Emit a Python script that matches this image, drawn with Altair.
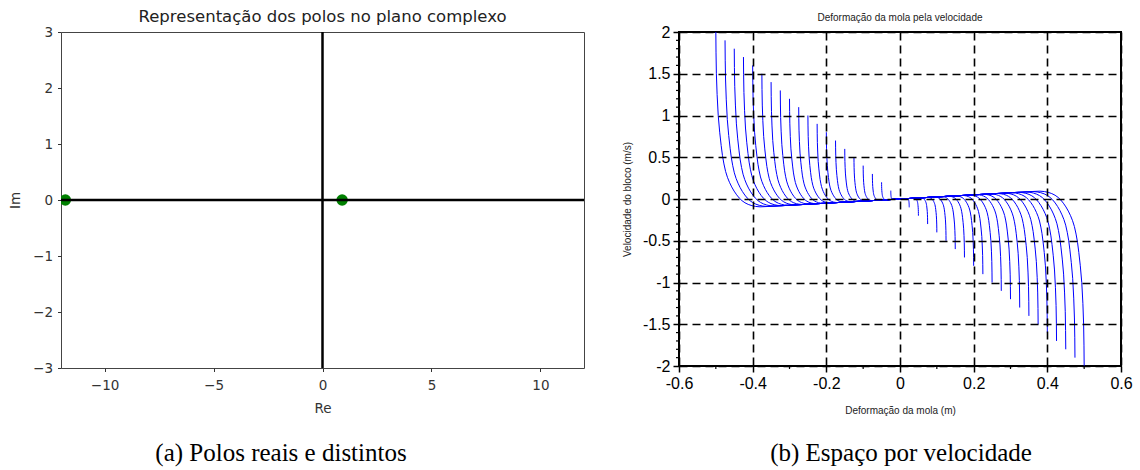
import altair as alt
import pandas as pd

# ---------------- Left panel: poles in the complex plane ----------------
POLE_RE = [-11.8, 0.9]
POLE_IM = [0.0, 0.0]
ZERO = [0.0]
LEFT_X_TICKS = [-10, -5, 0, 5, 10]
LEFT_Y_TICKS = [-3, -2, -1, 0, 1, 2, 3]

# ---------------- Right panel: spring deformation vs velocity -----------
# start point of each trajectory
START_X = [-0.5, -0.475, -0.45, -0.425, -0.4, -0.375, -0.35, -0.325, -0.3, -0.275,
           -0.25, -0.225, -0.2, -0.175, -0.15, -0.125, -0.1, -0.075, -0.05, -0.025,
           0.025, 0.05, 0.075, 0.1, 0.125, 0.15, 0.175, 0.2, 0.225, 0.25,
           0.275, 0.3, 0.325, 0.35, 0.375, 0.4, 0.425, 0.45, 0.475, 0.5]
START_V = [2.0, 1.9, 1.8, 1.7, 1.6, 1.5, 1.4, 1.3, 1.2, 1.1,
           1.0, 0.9, 0.8, 0.7, 0.6, 0.5, 0.4, 0.3, 0.2, 0.1,
           -0.1, -0.2, -0.3, -0.4, -0.5, -0.6, -0.7, -0.8, -0.9, -1.0,
           -1.1, -1.2, -1.3, -1.4, -1.5, -1.6, -1.7, -1.8, -1.9, -2.0]
# shape of the outermost trajectory; the other
# trajectories are homothetic copies of it
SHAPE_X = [-0.5, -0.4995, -0.4985, -0.4965, -0.4935, -0.4895, -0.4855, -0.482, -0.478,
           -0.4735, -0.4685, -0.463, -0.457, -0.4505, -0.4435, -0.4365, -0.429, -0.421,
           -0.412, -0.402, -0.392, -0.38, -0.36, 0.0]
SHAPE_V = [2.0, 1.75, 1.5, 1.25, 1.0, 0.8, 0.64, 0.52, 0.42, 0.33, 0.26, 0.2, 0.145,
           0.095, 0.05, 0.012, -0.02, -0.045, -0.065, -0.08, -0.089, -0.094, -0.09, 0.0]
RIGHT_X_TICKS = [-0.6, -0.4, -0.2, 0, 0.2, 0.4, 0.6]
RIGHT_Y_TICKS = [-2, -1.5, -1, -0.5, 0, 0.5, 1, 1.5, 2]
RIGHT_X_MINOR = [-0.5, -0.3, -0.1, 0.1, 0.3, 0.5]
RIGHT_Y_MINOR = [-1.9, -1.8, -1.7, -1.6, -1.4, -1.3, -1.2, -1.1, -0.9, -0.8, -0.7, -0.6,
                 -0.4, -0.3, -0.2, -0.1, 0.1, 0.2, 0.3, 0.4, 0.6, 0.7, 0.8, 0.9,
                 1.1, 1.2, 1.3, 1.4, 1.6, 1.7, 1.8, 1.9]

CAPTIONS = ["(a) Polos reais e distintos", "(b) Espaço por velocidade"]

# ---------------- Left chart ----------------
LW, LH = 523, 336
lx = alt.Scale(domain=[-12, 12], nice=False, zero=False)
ly = alt.Scale(domain=[-3, 3], nice=False, zero=False)
L_FONT = "DejaVu Sans"
laxis_common = dict(grid=False, domain=False, tickSize=3.5, tickColor="#333", tickWidth=1,
                    labelFont=L_FONT, labelFontSize=13.5, labelColor="#333", labelFlush=False,
                    titleFont=L_FONT, titleFontSize=13.5, titleFontWeight="normal",
                    titleColor="#333",
                    labelExpr="replace('' + datum.value, '-', '\u2212')")

poles = pd.DataFrame({"re": POLE_RE, "im": POLE_IM})
pts = alt.Chart(poles).mark_circle(color="#008000", opacity=1, size=130, clip=True).encode(
    x=alt.X("re:Q", scale=lx, axis=alt.Axis(values=LEFT_X_TICKS, title="Re", labelPadding=7,
                                            titlePadding=9, **laxis_common)),
    y=alt.Y("im:Q", scale=ly, axis=alt.Axis(values=LEFT_Y_TICKS, title="Im", labelPadding=5,
                                            titlePadding=10, **laxis_common)),
)
hline = alt.Chart(pd.DataFrame({"y": ZERO})).mark_rule(color="black", strokeWidth=2.5).encode(
    y=alt.Y("y:Q", scale=ly))
vline = alt.Chart(pd.DataFrame({"x": ZERO})).mark_rule(color="black", strokeWidth=2.5).encode(
    x=alt.X("x:Q", scale=lx))
cap_a = alt.Chart(pd.DataFrame({"t": [CAPTIONS[0]]})).mark_text(
    font="Liberation Serif", fontSize=25, color="black", align="center", baseline="middle"
).encode(text="t:N", x=alt.value(220), y=alt.value(421))

left = alt.layer(pts, hline, vline, cap_a).properties(
    width=LW, height=LH,
    title=alt.Title("Representação dos polos no plano complexo", font=L_FONT, fontSize=16.5,
                    fontWeight="normal", color="#222", offset=0),
    view=alt.ViewBackground(stroke="#444", strokeWidth=1),
)

# ---------------- Right chart ----------------
RW, RH = 442, 334
rx = alt.Scale(domain=[-0.6, 0.6], nice=False, zero=False)
ry = alt.Scale(domain=[-2, 2], nice=False, zero=False)
R_FONT = "Liberation Sans"

rows = []
for cid, (x0, v0) in enumerate(zip(START_X, START_V)):
    fx = x0 / SHAPE_X[0]
    fv = v0 / SHAPE_V[0]
    for k, (sx, sv) in enumerate(zip(SHAPE_X, SHAPE_V)):
        rows.append({"curve": cid, "k": k, "x": sx * fx, "v": sv * fv})
traj = pd.DataFrame(rows)

raxis_common = dict(grid=True, gridColor="black", gridDash=[8, 5], gridWidth=1.6,
                    domain=False, tickSize=6, tickColor="black", tickWidth=1.5,
                    labelFont=R_FONT, labelFontSize=16, labelColor="black", labelPadding=3,
                    labelFlush=False,
                    titleFont=R_FONT, titleFontSize=10, titleFontWeight="normal",
                    titleColor="#222", labelExpr="'' + datum.value", zindex=1)

curves = alt.Chart(traj).mark_line(color="#0000ff", strokeWidth=1).encode(
    x=alt.X("x:Q", scale=rx, axis=alt.Axis(values=RIGHT_X_TICKS, title="Deformação da mola (m)",
                                           titlePadding=14, **raxis_common)),
    y=alt.Y("v:Q", scale=ry, axis=alt.Axis(values=RIGHT_Y_TICKS, title="Velocidade do bloco (m/s)",
                                           titlePadding=10, **raxis_common)),
    detail="curve:N",
    order="k:Q",
)
xminor = alt.Chart(pd.DataFrame({"x": RIGHT_X_MINOR})).mark_rule(color="black", strokeWidth=1.2).encode(
    x=alt.X("x:Q", scale=rx), y=alt.value(RH), y2=alt.value(RH + 3))
yminor = alt.Chart(pd.DataFrame({"y": RIGHT_Y_MINOR})).mark_rule(color="black", strokeWidth=1.2).encode(
    y=alt.Y("y:Q", scale=ry), x=alt.value(0), x2=alt.value(-3))
cap_b = alt.Chart(pd.DataFrame({"t": [CAPTIONS[1]]})).mark_text(
    font="Liberation Serif", fontSize=25, color="black", align="center", baseline="middle"
).encode(text="t:N", x=alt.value(222), y=alt.value(421))

right = alt.layer(curves, xminor, yminor, cap_b).properties(
    width=RW, height=RH,
    title=alt.Title("Deformação da mola pela velocidade", font=R_FONT, fontSize=10,
                    fontWeight="normal", color="#222", offset=1),
    view=alt.ViewBackground(stroke="black", strokeWidth=2),
)

chart = alt.hconcat(left, right, spacing=35).properties(
    padding={"left": 8, "top": 8, "right": 0, "bottom": 0},
    background="white",
)

chart.save("out.html", embed_options={"renderer": "svg", "actions": False})
